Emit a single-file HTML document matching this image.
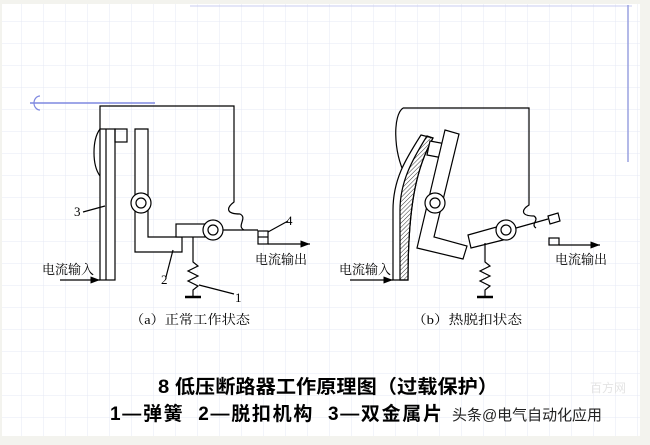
<!DOCTYPE html>
<html><head><meta charset="utf-8"><style>
html,body{margin:0;padding:0;background:#f3f3ee;}
svg{display:block}
</style></head><body>
<svg width="650" height="445" viewBox="0 0 650 445" xmlns="http://www.w3.org/2000/svg" font-family="Liberation Serif, Noto Serif CJK SC, serif">
<defs>
<pattern id="g" width="22" height="22" patternUnits="userSpaceOnUse"><path d="M22 0V22M0 22H22" stroke="#e6e8f4" stroke-width="1" fill="none"/></pattern>
<pattern id="h" width="3" height="3" patternUnits="userSpaceOnUse" patternTransform="rotate(45)"><line x1="0" y1="0" x2="0" y2="3" stroke="#333" stroke-width="1"/></pattern>
<marker id="a" markerWidth="8" markerHeight="6" refX="8" refY="3" orient="auto"><path d="M0,0L8,3L0,6z" fill="#000"/></marker>
</defs>
<rect x="2" y="4" width="638" height="432" fill="#fff"/>
<rect x="2" y="4" width="638" height="432" fill="url(#g)"/>
<line x1="190" y1="6" x2="632" y2="6" stroke="#c8ccf0" stroke-width="1"/>
<line x1="628" y1="5" x2="628" y2="162" stroke="#9aa2e0" stroke-width="1.5"/>
<line x1="30" y1="103" x2="155" y2="103" stroke="#7f88e0" stroke-width="1.5"/>
<path d="M40 96 A6 7 0 0 0 40 110" stroke="#7f88e0" fill="none" stroke-width="1.2"/>
<g stroke="#000" stroke-width="1.2" fill="none">
<path d="M100 129 C92 140 92 165 100 176"/>
<path d="M100 129 V106 H234 V202 C226 208 226 214 240 214 C248 218 236 226 244 230"/>
<rect x="100" y="129" width="15" height="151" fill="#fff"/>
<line x1="106" y1="129" x2="106" y2="280"/>
<rect x="115" y="129" width="12" height="13"/>
<path d="M135 129 H148 V237 H182 V252 H135 Z" fill="#fff"/>
<circle cx="141" cy="203" r="10" fill="#fff"/><circle cx="141" cy="203" r="5"/>
<rect x="176" y="224" width="29" height="13" fill="#fff"/>
<circle cx="213" cy="230" r="10" fill="#fff"/><circle cx="213" cy="230" r="5"/>
<line x1="223" y1="230" x2="258" y2="230"/>
<rect x="258" y="231" width="10" height="13"/><line x1="258" y1="237" x2="268" y2="237"/>
<line x1="268" y1="244" x2="310" y2="244" marker-end="url(#a)"/>
<line x1="268" y1="232" x2="288" y2="221"/>
<path d="M193 237 V262 L198 266 L188 271 L198 276 L188 281 L198 286 L193 290 V297"/>
<line x1="185" y1="297" x2="201" y2="297" stroke-width="2.5"/>
<line x1="60" y1="280" x2="100" y2="280" marker-end="url(#a)"/>
<line x1="83" y1="212" x2="105" y2="206"/>
<line x1="166" y1="277" x2="173" y2="250"/>
<line x1="199" y1="285" x2="234" y2="294"/>
<path d="M403 108 C393 115 393 150 405 175"/>
<path d="M403 108 H529 V205 C521 210 521 216 534 216 C540 220 530 224 536 228"/>
<path d="M421 135 L433 138 C418 165 408 200 408 280 H393 V210 C393 180 405 160 421 135 Z" fill="#fff"/>
<path d="M427 136 L433 138 C418 165 408 200 408 280 H400 V210 C400 182 412 160 427 136 Z" fill="url(#h)"/>
<path d="M430 141 L446 144 L443 158 L427 155 Z" fill="#fff"/>
<path d="M445 130 L459 134 L434 237 L467 246 L463 259 L417 248 Z" fill="#fff"/>
<circle cx="435" cy="203" r="10" fill="#fff"/><circle cx="435" cy="203" r="5"/>
<path d="M468 235 L500 226 L503 240 L471 248 Z" fill="#fff"/>
<circle cx="506" cy="230" r="10" fill="#fff"/><circle cx="506" cy="230" r="5"/>
<line x1="516" y1="228" x2="548" y2="219"/>
<path d="M548 216 L558 213 L560 221 L550 224 Z"/>
<rect x="549" y="238" width="10" height="7"/>
<line x1="559" y1="245" x2="600" y2="245" marker-end="url(#a)"/>
<path d="M485 243 V262 L490 266 L480 271 L490 276 L480 281 L490 286 L485 290 V297"/>
<line x1="477" y1="297" x2="493" y2="297" stroke-width="2.5"/>
<line x1="350" y1="280" x2="393" y2="280" marker-end="url(#a)"/>
</g>
<g font-size="13" fill="#000">
<text x="74" y="216">3</text><text x="161" y="284">2</text><text x="235" y="302">1</text><text x="286" y="225">4</text>
<text x="42" y="274" textLength="52" lengthAdjust="spacingAndGlyphs">电流输入</text>
<text x="255" y="264" textLength="52" lengthAdjust="spacingAndGlyphs">电流输出</text>
<text x="130" y="324" textLength="120" lengthAdjust="spacingAndGlyphs">（a）正常工作状态</text>
<text x="339" y="274" textLength="52" lengthAdjust="spacingAndGlyphs">电流输入</text>
<text x="555" y="264" textLength="52" lengthAdjust="spacingAndGlyphs">电流输出</text>
<text x="412" y="324" textLength="110" lengthAdjust="spacingAndGlyphs">（b）热脱扣状态</text>
</g>
<g font-family="Liberation Sans, Noto Sans CJK SC, sans-serif" fill="#000">
<text x="158" y="393" font-size="19" font-weight="bold" textLength="340" lengthAdjust="spacingAndGlyphs">8  低压断路器工作原理图（过载保护）</text>
<text x="110" y="420" font-size="19" font-weight="bold" textLength="332" lengthAdjust="spacing" xml:space="preserve">1—弹簧  2—脱扣机构  3—双金属片</text>
<text x="452" y="420" font-size="15" fill="#222" textLength="150" lengthAdjust="spacingAndGlyphs">头条@电气自动化应用</text>
<text x="590" y="392" font-size="12" fill="#e4e4e4">百方网</text>
</g>
</svg>
</body></html>
